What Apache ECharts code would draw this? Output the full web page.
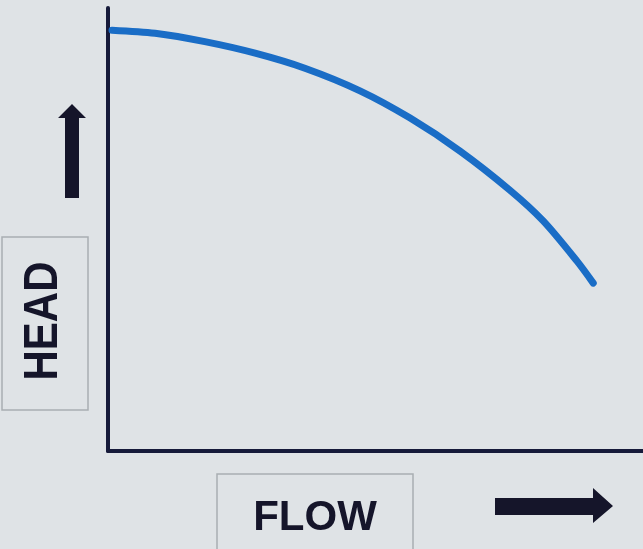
<!DOCTYPE html>
<html>
<head>
<meta charset="utf-8">
<script src="https://cdn.jsdelivr.net/npm/echarts@6/dist/echarts.min.js"></script>
<style>
  html, body { margin: 0; padding: 0; background: #dfe3e6; }
  #main { width: 643px; height: 549px; }
</style>
</head>
<body>
<div id="main"></div>
<script>
// pump curve (flow / head in % of axis)
var flow = [0.75, 8.8, 18.1, 27.5, 36.8, 47.1, 56.4, 65.8, 75.1, 81.3, 87.7, 90.7];
var head = [95.0, 94.3, 92.4, 89.8, 86.4, 81.3, 75.2, 67.7, 58.9, 52.0, 42.8, 37.9];
var xLabel = 'FLOW';
var yLabel = 'HEAD';

var chart = echarts.init(document.getElementById('main'));

var points = flow.map(function (f, i) { return [f, head[i]]; });

var labelFont = 'bold 42px "Liberation Sans", Arial, sans-serif';

var option = {
  backgroundColor: '#dfe3e6',
  animation: false,
  grid: { left: 108, top: 8, right: 0, bottom: 98 },
  xAxis: {
    type: 'value', min: 0, max: 100,
    axisLine: { lineStyle: { color: '#161a3a', width: 4 } },
    axisTick: { show: false },
    axisLabel: { show: false },
    splitLine: { show: false }
  },
  yAxis: {
    type: 'value', min: 0, max: 100,
    axisLine: { show: true, lineStyle: { color: '#161a3a', width: 4 } },
    axisTick: { show: false },
    axisLabel: { show: false },
    splitLine: { show: false }
  },
  series: [{
    type: 'line',
    data: points,
    smooth: 0.3,
    showSymbol: false,
    lineStyle: { color: '#1a6dc6', width: 7, cap: 'round' }
  }],
  graphic: [
    // label boxes
    { type: 'rect', shape: { x: 2, y: 237, width: 86, height: 173 },
      style: { fill: 'transparent', stroke: '#a9aeb2', lineWidth: 1.5 } },
    { type: 'rect', shape: { x: 217, y: 474, width: 196, height: 80 },
      style: { fill: 'transparent', stroke: '#a9aeb2', lineWidth: 1.5 } },
    { type: 'text', x: 44, y: 321, rotation: Math.PI / 2, scaleY: 1.15,
      style: { text: yLabel, fill: '#15152a', font: labelFont,
        align: 'center', verticalAlign: 'middle' } },
    { type: 'text', x: 315, y: 518,
      style: { text: xLabel, fill: '#15152a', font: labelFont,
        align: 'center', verticalAlign: 'middle' } },
    // up arrow
    { type: 'polygon', shape: { points: [[65, 198], [79, 198], [79, 118], [86, 118], [72, 104], [58, 118], [65, 118]] },
      style: { fill: '#15152a' } },
    // right arrow
    { type: 'polygon', shape: { points: [[495, 498], [593, 498], [593, 488], [613, 506], [593, 523], [593, 515], [495, 515]] },
      style: { fill: '#15152a' } }
  ]
};

chart.setOption(option);
</script>
</body>
</html>
